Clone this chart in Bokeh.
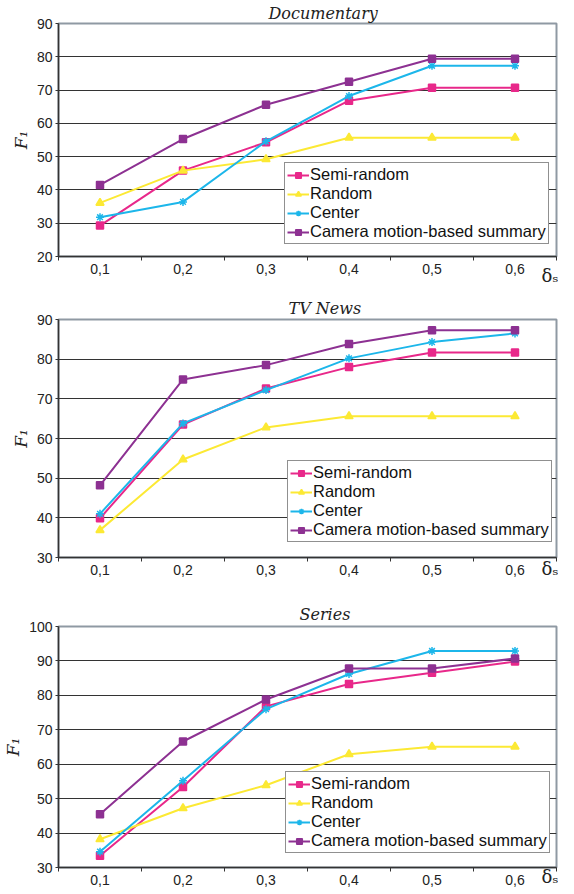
from bokeh.plotting import figure
from bokeh.models import Range1d, FixedTicker, Title
from bokeh.layouts import column
from bokeh.embed import file_html
from bokeh.resources import INLINE

# ---------------- data ----------------
delta = [0.1, 0.2, 0.3, 0.4, 0.5, 0.6]
x_labels = ["0,1", "0,2", "0,3", "0,4", "0,5", "0,6"]
series_names = ["Semi-random", "Random", "Center", "Camera motion-based summary"]
titles = ["Documentary", "TV News", "Series"]
x_title = "\u03b4\u209b"
y_title = "F\u2081"

doc_semi = [29.3, 45.8, 54.3, 66.8, 70.7, 70.7]
doc_random = [36.1, 45.8, 49.2, 55.7, 55.7, 55.7]
doc_center = [31.8, 36.4, 54.6, 68.2, 77.3, 77.3]
doc_camera = [41.5, 55.3, 65.6, 72.5, 79.4, 79.4]

tv_semi = [39.9, 63.5, 72.6, 78.0, 81.7, 81.7]
tv_random = [36.9, 54.7, 62.8, 65.6, 65.6, 65.6]
tv_center = [41.0, 63.8, 72.2, 80.2, 84.3, 86.5]
tv_camera = [48.2, 74.9, 78.5, 83.8, 87.3, 87.3]

ser_semi = [33.4, 53.4, 76.8, 83.3, 86.6, 89.8]
ser_random = [38.2, 47.2, 53.9, 62.9, 65.1, 65.1]
ser_center = [34.6, 55.2, 76.0, 86.2, 92.9, 92.9]
ser_camera = [45.5, 66.6, 78.8, 87.8, 87.8, 90.7]

y_ticks_doc = [20, 30, 40, 50, 60, 70, 80, 90]
y_ticks_tv = [30, 40, 50, 60, 70, 80, 90]
y_ticks_ser = [30, 40, 50, 60, 70, 80, 90, 100]

# ---------------- style ----------------
colors = ["#e8288a", "#fce934", "#1cb6ea", "#8d3192"]
markers = ["square", "triangle", "asterisk", "square_x"]
marker_sizes = [7, 8, 8, 7]

W = 558
LEFT = 49
RIGHT = 2


def make_fig(title, values, ticks, height, b_top, b_bottom,
             title_offset, title_standoff, ds_standoff, legend_loc):
    y0, y1 = ticks[0], ticks[-1]
    p = figure(width=W, height=height, output_backend="svg",
               toolbar_location=None,
               x_range=Range1d(0.05, 0.65), y_range=Range1d(y0, y1),
               min_border_left=LEFT, min_border_right=RIGHT,
               min_border_top=b_top, min_border_bottom=b_bottom)
    p.title = Title(text=title, align="left", offset=title_offset,
                    standoff=title_standoff,
                    text_font="DejaVu Serif", text_font_style="italic",
                    text_font_size="16px", text_color="#222222")
    p.add_layout(Title(text=x_title, align="right", offset=-2,
                       vertical_align="top", standoff=ds_standoff,
                       text_font="DejaVu Serif", text_font_style="normal",
                       text_font_size="18px", text_color="#222222"),
                 "below")
    p.background_fill_color = "white"
    p.border_fill_color = "white"
    p.outline_line_color = "#8f99a3"
    p.outline_line_width = 2

    # x axis
    minor = [round(d - 0.05, 2) for d in delta] + [round(delta[-1] + 0.05, 2)]
    p.xaxis.ticker = FixedTicker(ticks=delta, minor_ticks=minor)
    p.xaxis.major_label_overrides = dict(zip(delta, x_labels))
    p.xaxis.major_tick_line_color = None
    p.xaxis.major_tick_out = 0
    p.xaxis.major_tick_in = 0
    p.xaxis.minor_tick_out = 4
    p.xaxis.minor_tick_in = 0
    p.xaxis.minor_tick_line_color = "#333333"
    p.xaxis.minor_tick_line_width = 1
    p.xaxis.axis_line_color = "#333333"
    p.xaxis.axis_line_width = 1.5
    p.xaxis.major_label_standoff = 3
    p.xaxis.major_label_text_font = "Liberation Sans"
    p.xaxis.major_label_text_font_size = "14px"
    p.xaxis.major_label_text_color = "#222222"
    p.xgrid.visible = False

    # y axis
    p.yaxis.ticker = FixedTicker(ticks=ticks, minor_ticks=[])
    p.yaxis.major_tick_out = 3
    p.yaxis.major_tick_in = 0
    p.yaxis.major_tick_line_color = "#333333"
    p.yaxis.axis_line_color = "#333333"
    p.yaxis.axis_line_width = 1.5
    p.yaxis.major_label_standoff = 3
    p.yaxis.major_label_text_font = "Liberation Sans"
    p.yaxis.major_label_text_font_size = "14px"
    p.yaxis.major_label_text_color = "#222222"
    p.yaxis.axis_label = y_title
    p.yaxis.axis_label_text_font = "DejaVu Serif"
    p.yaxis.axis_label_text_font_style = "italic"
    p.yaxis.axis_label_text_font_size = "17px"
    p.yaxis.axis_label_text_color = "#222222"
    p.yaxis.axis_label_standoff = 3
    p.ygrid.grid_line_color = "#333333"
    p.ygrid.grid_line_width = 1

    for name, vals, c, m, s in zip(series_names, values, colors, markers,
                                   marker_sizes):
        p.line(delta, vals, line_color=c, line_width=2, legend_label=name)
        p.scatter(delta, vals, marker=m, size=s, fill_color=c, line_color=c,
                  line_width=1.5, legend_label=name)

    lg = p.legend[0]
    lg.location = legend_loc
    lg.border_line_color = "#222222"
    lg.border_line_width = 1
    lg.background_fill_color = "white"
    lg.background_fill_alpha = 1
    lg.label_text_font = "Liberation Sans"
    lg.label_text_font_size = "16.5px"
    lg.label_text_color = "#111111"
    lg.glyph_width = 22
    lg.glyph_height = 14
    lg.label_height = 14
    lg.label_standoff = 1
    lg.spacing = 0
    lg.padding = 2
    lg.margin = 0
    return p


f1 = make_fig(titles[0], [doc_semi, doc_random, doc_center, doc_camera],
              y_ticks_doc, 290, 23, 34, 210, 1, -24, (226, 12))
f2 = make_fig(titles[1], [tv_semi, tv_random, tv_center, tv_camera],
              y_ticks_tv, 308, 29, 41, 230, 4, -40, (229, 15))
f3 = make_fig(titles[2], [ser_semi, ser_random, ser_center, ser_camera],
              y_ticks_ser, 292, 28, 23, 241, 6, -44, (227, 14))

layout = column(f1, f2, f3)
open("out.html", "w").write(file_html(layout, INLINE))
